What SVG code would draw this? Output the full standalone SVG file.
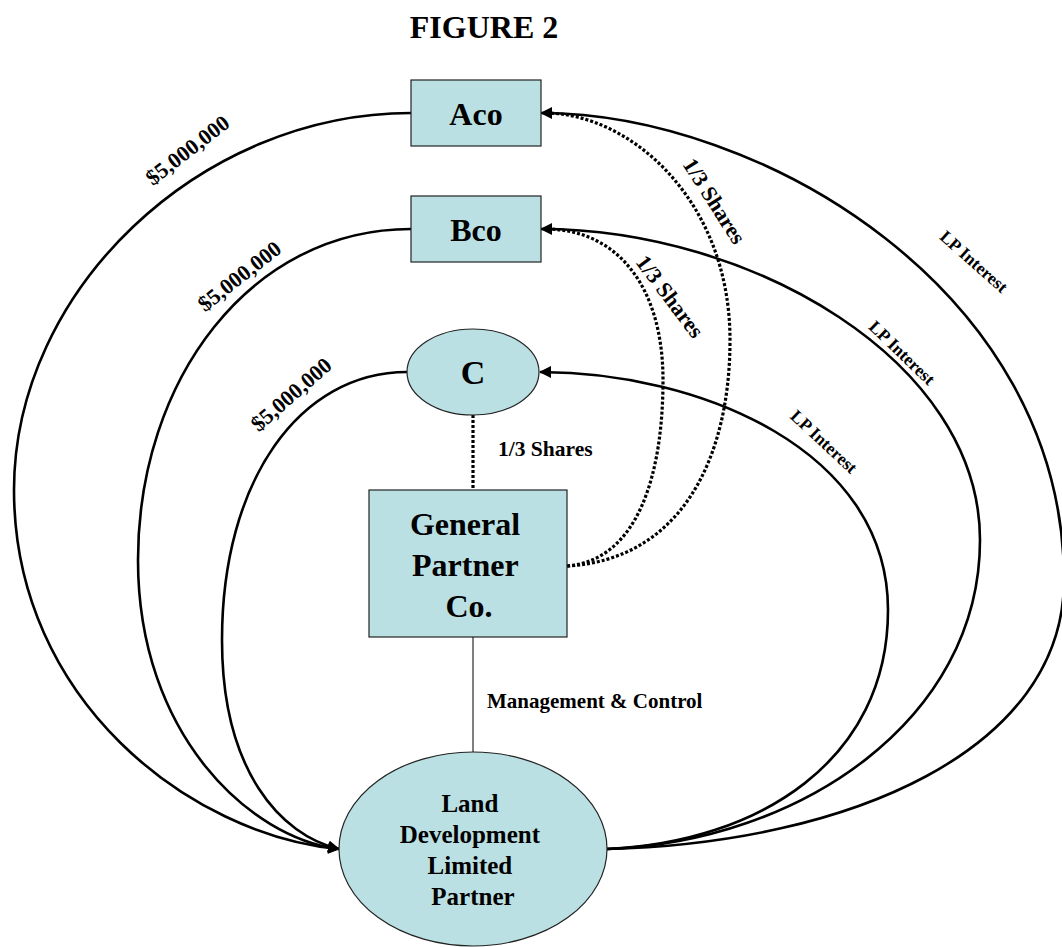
<svg xmlns="http://www.w3.org/2000/svg" width="1062" height="947" viewBox="0 0 1062 947">
  <style>
    .node { fill: #bbe0e3; stroke: #222; stroke-width: 1.2; }
    .lbl { font-family: "Liberation Serif", "Times New Roman", serif; font-weight: bold; fill: #000; }
    .flow { fill: none; stroke: #000; stroke-width: 2.6; }
    .share { fill: none; stroke: #000; stroke-width: 3.2; stroke-dasharray: 3 2; }
    .link { fill: none; stroke: #000; stroke-width: 1; }
  </style>
  <defs>
    <marker id="arrowL" markerWidth="12" markerHeight="12" refX="11" refY="6" orient="auto" markerUnits="userSpaceOnUse" viewBox="0 0 12 12">
      <path d="M0,0 L12,6 L0,12 z" fill="#000"/>
    </marker>
  </defs>

  <text class="lbl" x="484" y="38" font-size="32" text-anchor="middle">FIGURE 2</text>

  <g id="connectors">
    <!-- investments into the limited partnership -->
    <path class="flow" d="M411,113 C200,113 14,290 14,490 C14,700 190,835 339,849" marker-end="url(#arrowL)"/>
    <path class="flow" d="M411,229 C250,229 138,380 138,560 C138,735 250,838 339,849" marker-end="url(#arrowL)"/>
    <path class="flow" d="M407,372 C300,372 222,480 222,640 C222,770 280,835 339,849" marker-end="url(#arrowL)"/>
    <!-- LP interests back to investors -->
    <path class="flow" d="M607,849 C850,843 1064,750 1064,580 C1064,290 760,113 541,113" marker-end="url(#arrowL)"/>
    <path class="flow" d="M607,849 C800,842 980,720 980,540 C980,360 750,229 541,229" marker-end="url(#arrowL)"/>
    <path class="flow" d="M607,849 C760,842 888,760 888,610 C888,450 700,372 540,372" marker-end="url(#arrowL)"/>
    <!-- shareholdings in general partner -->
    <path class="share" d="M567,566 C680,560 730,460 730,340 C730,200 630,113 545,113"/>
    <path class="share" d="M567,566 C640,560 663,470 663,380 C663,290 620,229 545,229"/>
    <line class="share" x1="473" y1="415" x2="473" y2="490"/>
    <line class="link" x1="473" y1="637" x2="473" y2="752"/>
  </g>

  <g id="node-aco">
    <rect class="node" x="411" y="80" width="130" height="66"/>
    <text class="lbl" x="476" y="125" font-size="32" text-anchor="middle">Aco</text>
  </g>
  <g id="node-bco">
    <rect class="node" x="411" y="196" width="130" height="66"/>
    <text class="lbl" x="476" y="241" font-size="32" text-anchor="middle">Bco</text>
  </g>
  <g id="node-c">
    <ellipse class="node" cx="473" cy="372" rx="66" ry="43"/>
    <text class="lbl" x="473" y="384" font-size="34" text-anchor="middle">C</text>
  </g>
  <g id="node-gp">
    <rect class="node" x="369" y="490" width="198" height="147"/>
    <text class="lbl" font-size="32" text-anchor="middle">
      <tspan x="469" y="535">General</tspan>
      <tspan x="469" y="576">Partner</tspan>
      <tspan x="469" y="617">Co.</tspan>
    </text>
  </g>
  <g id="node-ldlp">
    <ellipse class="node" cx="473" cy="849" rx="134" ry="97"/>
    <text class="lbl" font-size="25" text-anchor="middle">
      <tspan x="473" y="812">Land</tspan>
      <tspan x="473" y="843">Development</tspan>
      <tspan x="473" y="874">Limited</tspan>
      <tspan x="473" y="905">Partner</tspan>
    </text>
  </g>

  <g id="labels">
    <text class="lbl" font-size="22" text-anchor="middle" transform="translate(192,156) rotate(-37.5)">$5,000,000</text>
    <text class="lbl" font-size="22" text-anchor="middle" transform="translate(244,282) rotate(-38)">$5,000,000</text>
    <text class="lbl" font-size="22" text-anchor="middle" transform="translate(296,400) rotate(-41)">$5,000,000</text>
    <text class="lbl" font-size="22" text-anchor="middle" transform="translate(708,205) rotate(57.5)">1/3 Shares</text>
    <text class="lbl" font-size="22" text-anchor="middle" transform="translate(664,301) rotate(53)">1/3 Shares</text>
    <text class="lbl" font-size="21.5" x="498" y="456">1/3 Shares</text>
    <text class="lbl" font-size="21" x="487" y="708">Management &amp; Control</text>
    <text class="lbl" font-size="17.5" text-anchor="middle" transform="translate(970,266) rotate(41.5)">LP Interest</text>
    <text class="lbl" font-size="17.5" text-anchor="middle" transform="translate(898,357) rotate(44)">LP Interest</text>
    <text class="lbl" font-size="17.5" text-anchor="middle" transform="translate(820,446) rotate(43)">LP Interest</text>
  </g>
</svg>
